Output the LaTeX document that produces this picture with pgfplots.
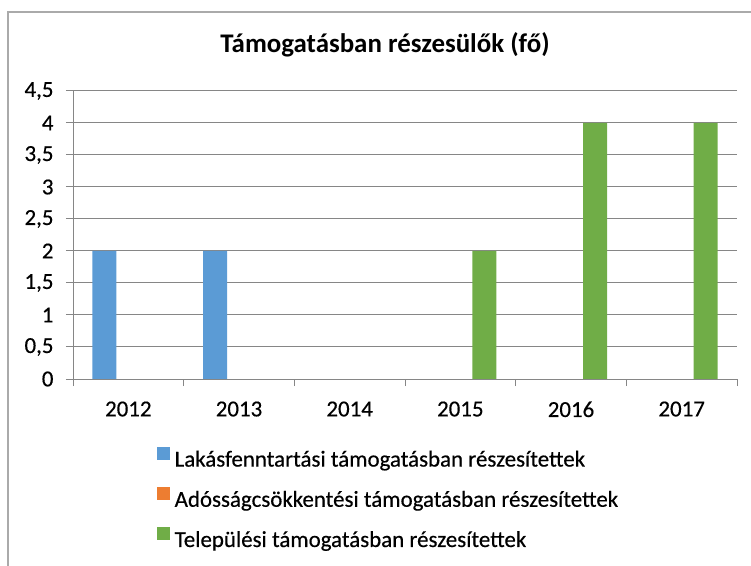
\documentclass[border=0pt]{standalone}
\usepackage{fontspec}
\setmainfont{Carlito}
\newfontfamily\lbl{Carlito}[FakeBold=0.4]
\usepackage{pgfplots}
\pgfplotsset{compat=1.18}
\definecolor{cblue}{HTML}{5B9BD5}
\definecolor{corange}{HTML}{ED7D31}
\definecolor{cgreen}{HTML}{70AD47}
\definecolor{gridc}{HTML}{868686}
\begin{document}
\begin{tikzpicture}
\path[use as bounding box] (0,0) rectangle (751bp,566bp);
\draw[gridc!70, line width=1.2bp] (8bp,-10bp) -- (8bp,554bp) -- (770bp,554bp);
\node[font=\fontsize{27}{32}\selectfont\bfseries, anchor=base, inner sep=0pt] at (385bp,513bp) {Támogatásban részesülők (fő)};
\begin{axis}[
  at={(73bp,187bp)}, anchor=south west,
  scale only axis, width=664bp, height=288bp,
  ybar=0pt, bar width=24bp,
  xmin=-0.5, xmax=5.5, ymin=0, ymax=4.5,
  xtick={-0.5,0.5,1.5,2.5,3.5,4.5,5.5},
  xticklabels={,,,,,,},
  extra x ticks={0,1,2,3,4,5},
  extra x tick labels={2012,2013,2014,2015,2016,2017},
  extra x tick style={tick style={draw=none}, grid=none},
  ytick={0,0.5,...,4.5},
  ymajorgrids, grid style={gridc, line width=1bp},
  axis x line*=bottom, axis y line*=left,
  axis line style={gridc, line width=1bp, -},
  tick style={gridc, line width=1bp},
  tick align=outside, major tick length=7bp,
  tick label style={font=\lbl\fontsize{23}{27}\selectfont, text=black},
  xticklabel style={yshift=-12bp},
  yticklabel style={xshift=-9bp},
  /pgf/number format/.cd, use comma, fixed, precision=1, assume math mode=true,
  /pgfplots/.cd,
  legend style={draw=none, fill=none, at={(0.1265,-0.235)}, anchor=north west,
    font=\lbl\fontsize{23}{27}\selectfont, row sep=17bp, inner sep=0pt,
    nodes={inner xsep=4.5bp}},
  legend cell align=left,
  legend image code/.code={\fill[#1] (0bp,-0.5bp) rectangle (13bp,12.5bp);},
]
\addplot[fill=cblue, draw=none] coordinates {(0,2) (1,2) (2,0) (3,0) (4,0) (5,0)};
\addplot[fill=corange, draw=none] coordinates {(0,0) (1,0) (2,0) (3,0) (4,0) (5,0)};
\addplot[fill=cgreen, draw=none] coordinates {(0,0) (1,0) (2,0) (3,2) (4,4) (5,4)};
\legend{Lakásfenntartási támogatásban részesítettek, Adósságcsökkentési támogatásban részesítettek, Települési támogatásban részesítettek}
\end{axis}
\end{tikzpicture}
\end{document}
